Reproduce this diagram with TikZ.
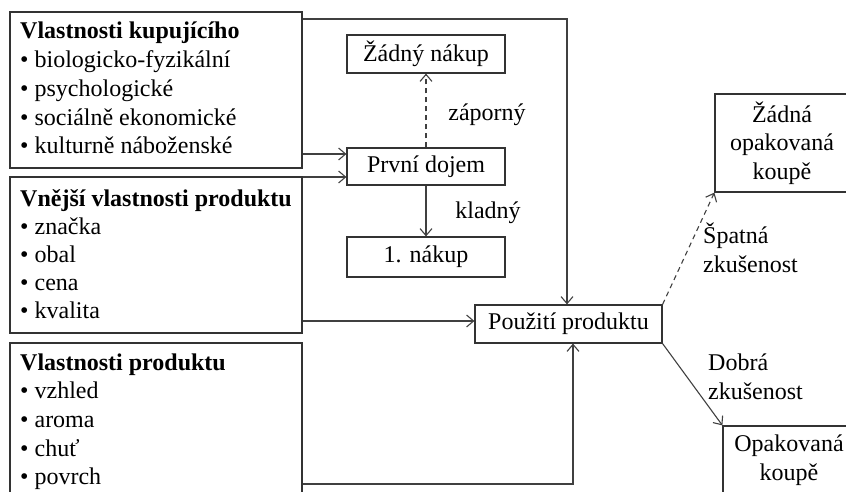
\documentclass[tikz,border=0pt]{standalone}
\usepackage{fontspec}
\setmainfont{Liberation Serif}
\usetikzlibrary{arrows.meta}
\begin{document}
\begin{tikzpicture}[x=1pt,y=-1pt,
  frame/.style={draw=black!80, line width=1.2pt, fill=white, inner sep=0pt},
  boxt/.style={frame, align=center, font=\fontsize{24}{28.5}\selectfont},
  txt/.style={inner sep=0pt, anchor=base west, font=\fontsize{24}{28.5}\selectfont},
  hd/.style={txt, font=\fontsize{24}{28.5}\selectfont\bfseries},
  lbl/.style={inner sep=0pt, align=left, font=\fontsize{24}{28.5}\selectfont},
  arr/.style={draw=black!75, line width=1.1pt, -{Straight Barb[length=7pt,width=12pt]}},
  dsh/.style={arr, dash pattern=on 5pt off 4pt}
]
\useasboundingbox (0,0) rectangle (846,492);
% left boxes
\node[frame, minimum width=292pt, minimum height=156pt] (b1) at (156,90) {};
\node[frame, minimum width=292pt, minimum height=156pt] (b2) at (156,255) {};
\node[frame, minimum width=292pt, minimum height=167pt] (b3) at (156,426.5) {};
\node[hd] (k0) at (20,39) {Vlastnosti kupujícího};
\foreach \t [count=\i] in {biologicko-fyzikální, psychologické, sociálně ekonomické, kulturně náboženské}
  \node[txt] (k\i) at (20,{39+28.7*\i}) {• \t};
\node[hd] (v0) at (20,206) {Vnější vlastnosti produktu};
\foreach \t [count=\i] in {značka, obal, cena, kvalita}
  \node[txt] (v\i) at (20,{206+28*\i}) {• \t};
\node[hd] (p0) at (20,370) {Vlastnosti produktu};
\foreach \t [count=\i] in {vzhled, aroma, chuť, povrch}
  \node[txt] (p\i) at (20,{370+28.7*\i}) {• \t};
% middle boxes
\node[boxt, minimum width=158pt, minimum height=38pt] (zn) at (426,54) {Žádný nákup};
\node[boxt, minimum width=158pt, minimum height=37pt] (pd) at (426,166.5) {První dojem};
\node[boxt, minimum width=158pt, minimum height=40pt] (n1) at (426,257) {1. nákup};
\node[boxt, minimum width=187pt, minimum height=38pt] (pou) at (568.5,324) {Použití produktu};
% right boxes
\node[boxt, minimum width=134pt, minimum height=98pt] (zok) at (782,143) {Žádná\\opakovaná\\koupě};
\node[boxt, minimum width=132pt, minimum height=68pt] (ok) at (789,460) {Opakovaná\\koupě};
% labels
\node[lbl] (lz) at (487,115) {záporný};
\node[lbl] (lk) at (488,213) {kladný};
\node[lbl, anchor=west] (ls) at (703,248) {Špatná\\zkušenost};
\node[lbl, anchor=west] (ld) at (708,377) {Dobrá\\zkušenost};
% connectors
\coordinate (c1) at (567,19);
\draw[arr] (b1.east |- c1) -- (c1) -- (c1 |- pou.north);
\draw[arr] ([yshift=12.5pt]pd.west -| b1.east) -- ([yshift=12.5pt]pd.west);
\draw[arr] ([yshift=-10.5pt]pd.west -| b2.east) -- ([yshift=-10.5pt]pd.west);
\draw[dsh] (pd.north) -- (zn.south);
\draw[arr] (pd.south) -- (n1.north);
\draw[arr] ([yshift=3pt]pou.west -| b2.east) -- ([yshift=3pt]pou.west);
\coordinate (c3) at (573,484);
\draw[arr] (b3.east |- c3) -- (c3) -- (c3 |- pou.south);
\draw[dsh] (pou.north east) -- (zok.south west);
\draw[arr] (pou.south east) -- (ok.north west);
\end{tikzpicture}
\end{document}
